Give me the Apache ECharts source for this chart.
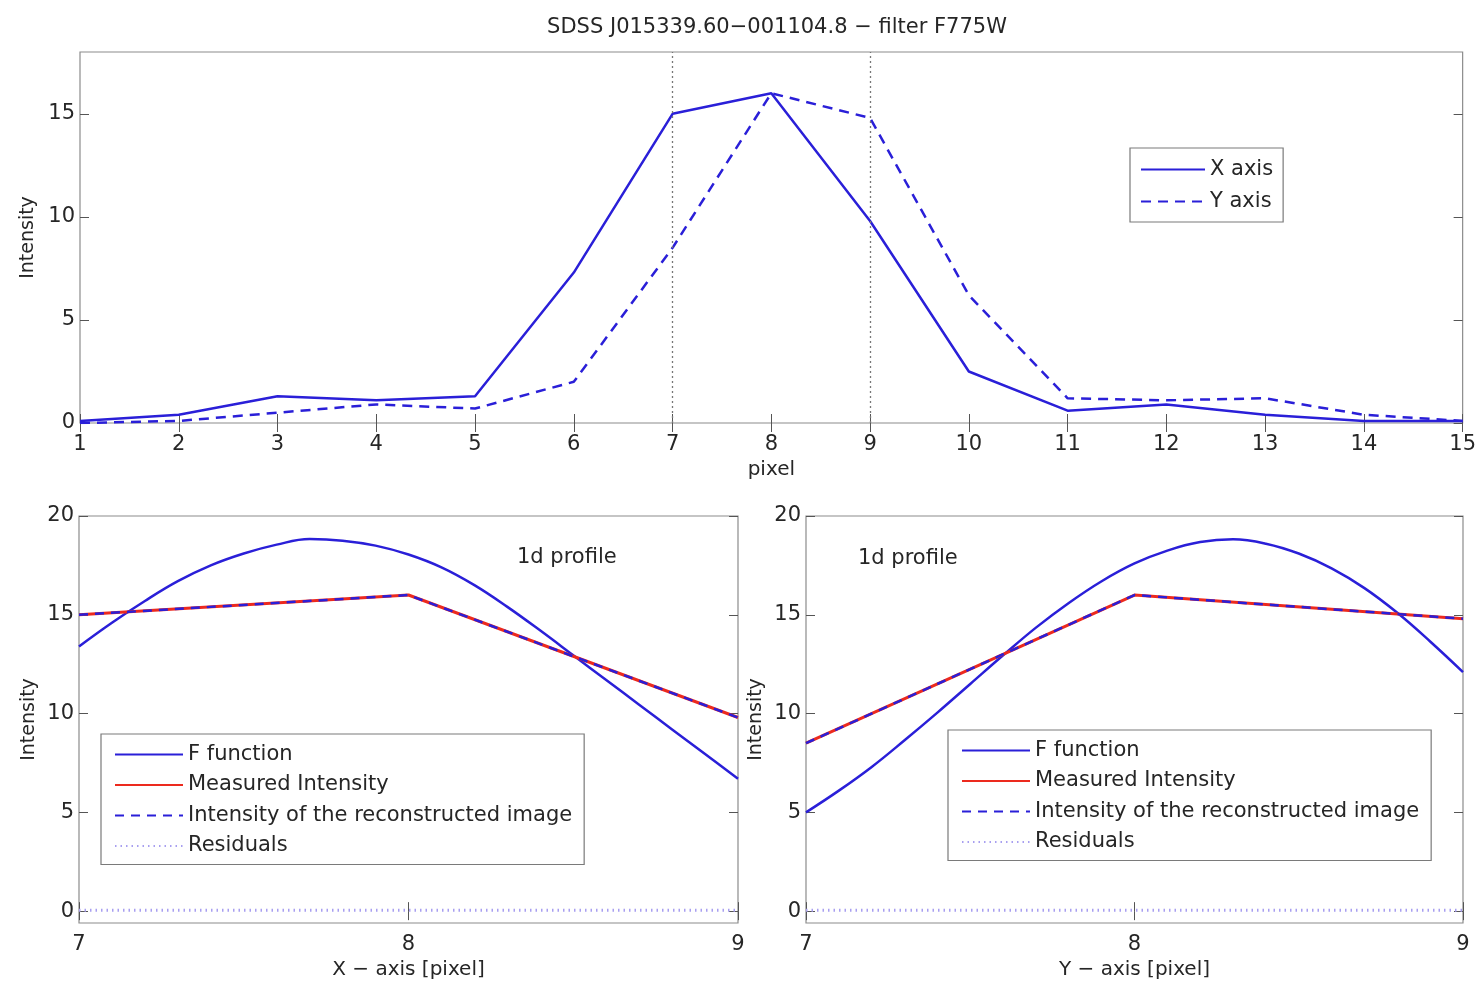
<!DOCTYPE html>
<html>
<head>
<meta charset="utf-8">
<title>SDSS J015339.60−001104.8 − filter F775W</title>
<script src="https://cdn.jsdelivr.net/npm/echarts@6/dist/echarts.min.js"></script>
<style>
  html, body { margin: 0; padding: 0; background: #ffffff; }
  #chart { width: 1479px; height: 981px; }
</style>
</head>
<body>
<div id="chart"></div>
<script>
// ---- profile along the full cut (pixel 1..15) ----
const pixels     = [1, 2, 3, 4, 5, 6, 7, 8, 9, 10, 11, 12, 13, 14, 15];
const xProfile   = [0.1, 0.4, 1.3, 1.1, 1.3, 7.3, 15.0, 16.0, 9.8, 2.5, 0.6, 0.9, 0.4, 0.1, 0.1];
const yProfile   = [0.0, 0.1, 0.5, 0.9, 0.7, 2.0, 8.5, 16.0, 14.8, 6.2, 1.2, 1.1, 1.2, 0.4, 0.1];
const guidePixels = [7, 9];
const topYTicks  = [0, 5, 10, 15];

// ---- 1d profile around the peak (pixel 7..9) ----
const cutPixels  = [7, 8, 9];
const xMeasured  = [15.0, 16.0, 9.8];
const xRecon     = [15.0, 16.0, 9.8];
const xResidual  = [0.05, 0.05, 0.05];
const yMeasured  = [8.5, 16.0, 14.8];
const yRecon     = [8.5, 16.0, 14.8];
const yResidual  = [0.05, 0.05, 0.05];

// F function sampled along the cut
const fPositions = [7.0, 7.1, 7.2, 7.3, 7.4, 7.5, 7.6, 7.7, 7.8, 7.9, 8.0,
                    8.1, 8.2, 8.3, 8.4, 8.5, 8.6, 8.7, 8.8, 8.9, 9.0];
const xFunction  = [13.4, 14.6, 15.7, 16.7, 17.5, 18.1, 18.55, 18.83, 18.75, 18.5, 18.05,
                    17.4, 16.5, 15.4, 14.2, 12.95, 11.7, 10.45, 9.2, 7.95, 6.7];
const yFunction  = [5.0, 6.1, 7.3, 8.65, 10.05, 11.5, 12.95, 14.35, 15.6, 16.7, 17.6,
                    18.25, 18.68, 18.82, 18.6, 18.1, 17.35, 16.35, 15.1, 13.65, 12.1];
const bottomYTicks = [0, 5, 10, 15, 20];

const FONT = 'DejaVu Sans';
const TEXT = '#262626';
const FRAME = '#8c8c8c';
const BLUE = '#2a1fd8';
const RED = '#ec2a1e';
const LAVENDER = '#a89ff0';

const pair = (xs, ys) => xs.map((x, i) => [x, ys[i]]);

function labelStyle(extra) {
  return Object.assign({ color: TEXT, fontFamily: FONT, fontSize: 21 }, extra || {});
}

// main axis (with labels) + mirrored axis (ticks only) for a boxed frame
function xAxes(grid, min, max, name, nameGap) {
  const base = {
    type: 'value', gridIndex: grid, min: min, max: max, interval: 1,
    splitLine: { show: false },
    axisLine: { show: false },
    axisTick: { inside: true, length: 9, lineStyle: { color: '#555', width: 1 } }
  };
  return [
    Object.assign({}, base, {
      position: 'bottom',
      name: name, nameLocation: 'middle', nameGap: nameGap,
      nameTextStyle: labelStyle({ fontSize: 20 }),
      axisLabel: labelStyle({ margin: 11 })
    }),
    Object.assign({}, base, { position: 'top', axisLabel: { show: false } })
  ];
}

function yAxes(grid, min, max, ticks) {
  const base = {
    type: 'value', gridIndex: grid, min: min, max: max,
    splitLine: { show: false },
    axisLine: { show: false },
    axisTick: { inside: true, length: 9, customValues: ticks, lineStyle: { color: '#555', width: 1 } }
  };
  return [
    Object.assign({}, base, {
      position: 'left',
      name: 'Intensity', nameLocation: 'middle', nameGap: 40,
      nameTextStyle: labelStyle({ fontSize: 19 }),
      axisLabel: labelStyle({ margin: 5, customValues: ticks })
    }),
    Object.assign({}, base, { position: 'right', axisLabel: { show: false } })
  ];
}

const gridBox = { show: true, borderColor: FRAME, borderWidth: 1.2, backgroundColor: '#fff' };

const legendBox = {
  orient: 'vertical',
  backgroundColor: '#fff',
  borderColor: '#7a7a7a',
  borderWidth: 1.2,
  itemWidth: 68,
  itemHeight: 14,
  itemStyle: { opacity: 0 },
  textStyle: labelStyle({ fontSize: 21 })
};

const option = {
  backgroundColor: '#ffffff',
  animation: false,
  title: {
    text: 'SDSS J015339.60−001104.8 − filter F775W',
    left: 772, top: 12, textAlign: 'center',
    textStyle: labelStyle({ fontSize: 21, fontWeight: 'normal' })
  },
  grid: [
    Object.assign({ left: 80, top: 52, width: 1384, height: 371 }, gridBox),
    Object.assign({ left: 79, top: 516, width: 659, height: 407 }, gridBox),
    Object.assign({ left: 806, top: 516, width: 657, height: 407 }, gridBox)
  ],
  xAxis: [].concat(
    xAxes(0, 1, 15, 'pixel', 37),
    xAxes(1, 7, 9, 'X − axis [pixel]', 37),
    xAxes(2, 7, 9, 'Y − axis [pixel]', 37)
  ),
  yAxis: [].concat(
    yAxes(0, 0, 18, topYTicks),
    yAxes(1, -0.6, 20, bottomYTicks),
    yAxes(2, -0.6, 20, bottomYTicks)
  ),
  legend: [
    Object.assign({}, legendBox, {
      data: ['X axis', 'Y axis'],
      left: 1130, top: 148,
      padding: [11, 10, 10, 10],
      itemGap: 11,
      itemWidth: 64
    }),
    Object.assign({}, legendBox, {
      data: ['F function', 'Measured Intensity', 'Intensity of the reconstructed image', 'Residuals'],
      left: 101, top: 734,
      padding: [10, 12, 8, 13],
      itemGap: 9.5
    }),
    Object.assign({}, legendBox, {
      data: ['F function', 'Measured Intensity', 'Intensity of the reconstructed image', 'Residuals'],
      left: 948, top: 730,
      padding: [10, 12, 8, 13],
      itemGap: 9.5
    })
  ],
  graphic: [
    { type: 'text', left: 517, top: 547, style: { text: '1d profile', font: '21px "DejaVu Sans"', fill: TEXT } },
    { type: 'text', left: 858, top: 548, style: { text: '1d profile', font: '21px "DejaVu Sans"', fill: TEXT } }
  ],
  series: [
    {
      name: 'X axis', type: 'line', xAxisIndex: 0, yAxisIndex: 0,
      data: pair(pixels, xProfile), symbol: 'none',
      lineStyle: { color: BLUE, width: 2.5 }, itemStyle: { color: BLUE },
      markLine: {
        silent: true, symbol: 'none', label: { show: false },
        lineStyle: { color: '#777', type: [2, 3], width: 1.3 },
        data: guidePixels.map(p => ({ xAxis: p }))
      }
    },
    {
      name: 'Y axis', type: 'line', xAxisIndex: 0, yAxisIndex: 0,
      data: pair(pixels, yProfile), symbol: 'none',
      lineStyle: { color: BLUE, width: 2.5, type: [10, 7] }, itemStyle: { color: BLUE }
    },

    // X cut
    {
      name: 'F function', type: 'line', xAxisIndex: 2, yAxisIndex: 2,
      data: pair(fPositions, xFunction), symbol: 'none', smooth: 0.4,
      lineStyle: { color: BLUE, width: 2.5 }, itemStyle: { color: BLUE }
    },
    {
      name: 'Measured Intensity', type: 'line', xAxisIndex: 2, yAxisIndex: 2,
      data: pair(cutPixels, xMeasured), symbol: 'none',
      lineStyle: { color: RED, width: 3 }, itemStyle: { color: RED }
    },
    {
      name: 'Intensity of the reconstructed image', type: 'line', xAxisIndex: 2, yAxisIndex: 2,
      data: pair(cutPixels, xRecon), symbol: 'none',
      lineStyle: { color: BLUE, width: 2.5, type: [9, 7] }, itemStyle: { color: BLUE }
    },
    {
      name: 'Residuals', type: 'line', xAxisIndex: 2, yAxisIndex: 2,
      data: pair(cutPixels, xResidual), symbol: 'none',
      lineStyle: { color: LAVENDER, width: 3, type: [1.5, 4] }, itemStyle: { color: LAVENDER }
    },

    // Y cut
    {
      name: 'F function', type: 'line', xAxisIndex: 4, yAxisIndex: 4,
      data: pair(fPositions, yFunction), symbol: 'none', smooth: 0.4,
      lineStyle: { color: BLUE, width: 2.5 }, itemStyle: { color: BLUE }
    },
    {
      name: 'Measured Intensity', type: 'line', xAxisIndex: 4, yAxisIndex: 4,
      data: pair(cutPixels, yMeasured), symbol: 'none',
      lineStyle: { color: RED, width: 3 }, itemStyle: { color: RED }
    },
    {
      name: 'Intensity of the reconstructed image', type: 'line', xAxisIndex: 4, yAxisIndex: 4,
      data: pair(cutPixels, yRecon), symbol: 'none',
      lineStyle: { color: BLUE, width: 2.5, type: [9, 7] }, itemStyle: { color: BLUE }
    },
    {
      name: 'Residuals', type: 'line', xAxisIndex: 4, yAxisIndex: 4,
      data: pair(cutPixels, yResidual), symbol: 'none',
      lineStyle: { color: LAVENDER, width: 3, type: [1.5, 4] }, itemStyle: { color: LAVENDER }
    }
  ]
};

const chart = echarts.init(document.getElementById('chart'), null, { renderer: 'canvas' });
chart.setOption(option);
</script>
</body>
</html>
